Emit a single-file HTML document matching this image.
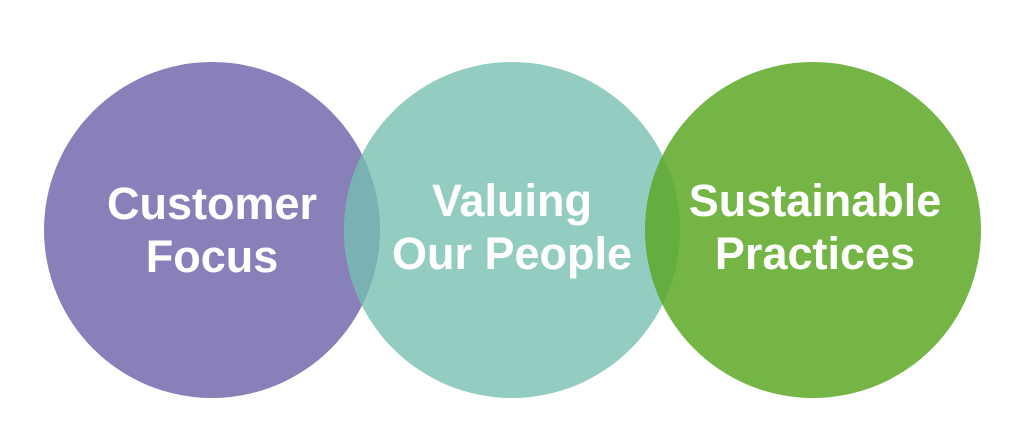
<!DOCTYPE html>
<html><head><style>
html,body{margin:0;padding:0;background:#fff;}
svg{display:block}
text{font-family:"Liberation Sans",Arial,sans-serif;font-weight:bold;font-size:45px;fill:#fff;text-anchor:middle}
</style></head><body>
<svg width="1024" height="442" viewBox="0 0 1024 442">
<defs>
<clipPath id="cp"><circle cx="212" cy="230" r="168"/></clipPath>
<clipPath id="cg"><circle cx="813" cy="230" r="168"/></clipPath>
</defs>
<circle cx="212" cy="230" r="168" fill="#8880b8"/>
<circle cx="512" cy="230" r="168" fill="#93cdc2"/>
<circle cx="813" cy="230" r="168" fill="#74b546"/>
<circle cx="512" cy="230" r="168" fill="#7ab1b3" clip-path="url(#cp)"/>
<circle cx="512" cy="230" r="168" fill="#64ad3e" clip-path="url(#cg)"/>
<text x="212" y="219">Customer</text>
<text x="212" y="272">Focus</text>
<text x="512" y="216">Valuing</text>
<text x="512" y="269">Our People</text>
<text x="815" y="216">Sustainable</text>
<text x="815" y="269">Practices</text>
</svg>
</body></html>
